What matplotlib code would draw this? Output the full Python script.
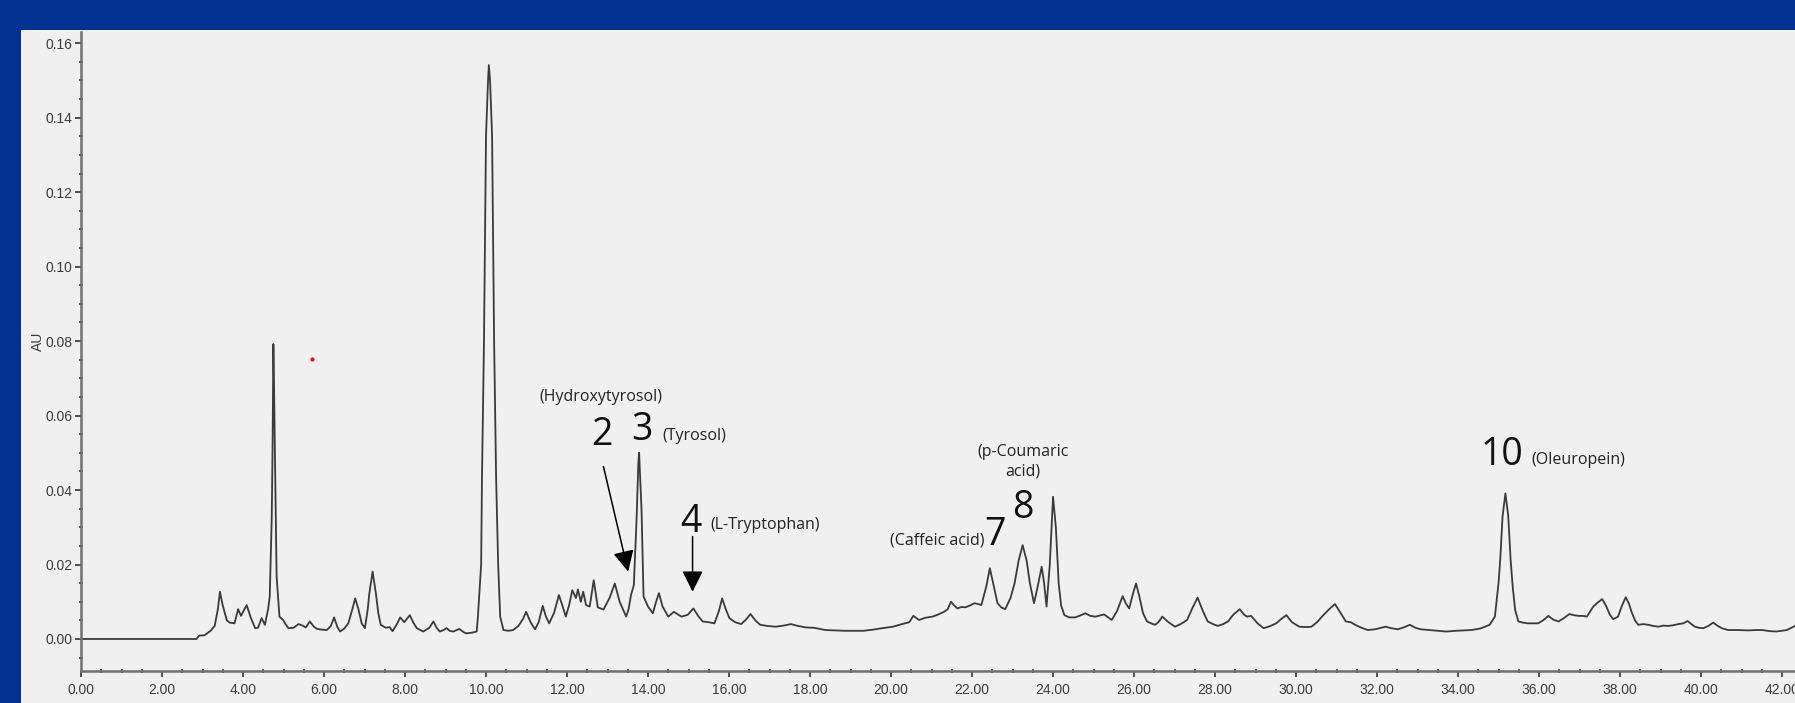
import matplotlib
matplotlib.use("Agg")
import matplotlib.pyplot as plt
from matplotlib.patches import Rectangle
from matplotlib.ticker import MultipleLocator, FormatStrFormatter

# Retention time (min) and absorbance (AU) of the trace
rt_min = [
    0.00, 2.85, 2.92, 3.05, 3.20, 3.30, 3.38, 3.43, 3.50, 3.60, 3.67, 3.79, 3.88, 3.95,
    4.09, 4.20, 4.30, 4.37, 4.46, 4.54, 4.62, 4.66, 4.71, 4.73, 4.75, 4.77, 4.79, 4.83,
    4.90, 4.99, 5.05, 5.12, 5.25, 5.37, 5.47, 5.55, 5.65, 5.75, 5.83, 5.95, 6.07, 6.17,
    6.25, 6.33, 6.40, 6.50, 6.60, 6.70, 6.77, 6.85, 6.93, 7.01, 7.08, 7.12, 7.20, 7.28,
    7.34, 7.40, 7.53, 7.62, 7.69, 7.80, 7.88, 7.98, 8.12, 8.20, 8.29, 8.45, 8.60, 8.70,
    8.78, 8.86, 8.95, 9.03, 9.10, 9.19, 9.34, 9.45, 9.52, 9.65, 9.77, 9.80, 9.88, 9.90,
    9.95, 10.00, 10.05, 10.07, 10.10, 10.15, 10.20, 10.25, 10.30, 10.35, 10.43, 10.55,
    10.67, 10.80, 10.92, 10.99, 11.10, 11.21, 11.30, 11.40, 11.48, 11.56, 11.68, 11.80,
    11.90, 11.97, 12.05, 12.13, 12.22, 12.27, 12.34, 12.40, 12.47, 12.56, 12.66, 12.76,
    12.90, 13.05, 13.18, 13.30, 13.46, 13.52, 13.58, 13.65, 13.72, 13.76, 13.78, 13.80,
    13.84, 13.89, 14.00, 14.12, 14.20, 14.27, 14.36, 14.50, 14.64, 14.75, 14.83, 14.98,
    15.12, 15.25, 15.35, 15.50, 15.64, 15.75, 15.83, 15.92, 16.01, 16.15, 16.30, 16.42,
    16.53, 16.65, 16.77, 16.95, 17.15, 17.35, 17.53, 17.70, 17.90, 18.10, 18.38, 18.60,
    18.85, 19.10, 19.32, 19.55, 19.79, 20.05, 20.27, 20.45, 20.55, 20.69, 20.85, 21.02,
    21.15, 21.31, 21.40, 21.48, 21.56, 21.64, 21.74, 21.84, 21.95, 22.06, 22.15, 22.23,
    22.35, 22.44, 22.52, 22.63, 22.72, 22.82, 22.95, 23.05, 23.15, 23.25, 23.35, 23.43,
    23.53, 23.62, 23.72, 23.78, 23.84, 23.92, 24.00, 24.07, 24.14, 24.20, 24.28, 24.40,
    24.55, 24.67, 24.80, 24.92, 25.05, 25.15, 25.26, 25.36, 25.45, 25.58, 25.72, 25.80,
    25.88, 25.97, 26.05, 26.13, 26.22, 26.32, 26.42, 26.52, 26.60, 26.70, 26.85, 27.01,
    27.15, 27.31, 27.45, 27.57, 27.70, 27.82, 27.95, 28.07, 28.20, 28.32, 28.45, 28.61,
    28.72, 28.79, 28.89, 29.05, 29.20, 29.35, 29.51, 29.65, 29.76, 29.90, 30.08, 30.25,
    30.38, 30.52, 30.64, 30.80, 30.96, 31.10, 31.23, 31.35, 31.46, 31.62, 31.77, 31.95,
    32.10, 32.21, 32.35, 32.52, 32.68, 32.81, 32.95, 33.08, 33.30, 33.50, 33.71, 33.95,
    34.15, 34.33, 34.55, 34.78, 34.91, 35.00, 35.04, 35.10, 35.17, 35.24, 35.30, 35.35,
    35.41, 35.49, 35.60, 35.73, 35.85, 35.98, 36.10, 36.23, 36.35, 36.48, 36.60, 36.75,
    36.85, 36.98, 37.08, 37.18, 37.27, 37.34, 37.45, 37.56, 37.65, 37.75, 37.83, 37.95,
    38.05, 38.14, 38.22, 38.29, 38.37, 38.45, 38.58, 38.70, 38.82, 38.95, 39.07, 39.19,
    39.32, 39.44, 39.56, 39.67, 39.76, 39.85, 39.95, 40.06, 40.18, 40.30, 40.40, 40.51,
    40.67, 40.90, 41.17, 41.35, 41.51, 41.70, 41.86, 42.00, 42.12, 42.32,
]
absorb_au = [
    0.0, 0.0, 0.0009, 0.0010, 0.0022, 0.0035, 0.0080, 0.0127, 0.0090, 0.0050, 0.0044, 0.0042, 0.0080, 0.0062,
    0.0091, 0.0055, 0.0029, 0.0030, 0.0056, 0.0038, 0.0080, 0.0114, 0.0328, 0.0516, 0.0792, 0.0650, 0.0480, 0.0167,
    0.0060, 0.0051, 0.0040, 0.0029, 0.0030, 0.0040, 0.0036, 0.0031, 0.0047, 0.0033, 0.0027, 0.0025, 0.0024, 0.0035,
    0.0058, 0.0032, 0.0020, 0.0028, 0.0042, 0.0080, 0.0109, 0.0080, 0.0042, 0.0029, 0.0080, 0.0123, 0.0181, 0.0123,
    0.0070, 0.0038, 0.0030, 0.0032, 0.0021, 0.0040, 0.0058, 0.0045, 0.0064, 0.0045, 0.0029, 0.0020, 0.0030, 0.0047,
    0.0030, 0.0020, 0.0024, 0.0029, 0.0022, 0.0020, 0.0027, 0.0018, 0.0015, 0.0017, 0.0020, 0.0060, 0.0200, 0.0430,
    0.0800, 0.1350, 0.1500, 0.1541, 0.1500, 0.1350, 0.0800, 0.0430, 0.0200, 0.0060, 0.0024, 0.0022,
    0.0024, 0.0035, 0.0055, 0.0073, 0.0045, 0.0026, 0.0045, 0.0089, 0.0060, 0.0042, 0.0070, 0.0118,
    0.0085, 0.0060, 0.0090, 0.0131, 0.0110, 0.0133, 0.0100, 0.0127, 0.0091, 0.0087, 0.0158, 0.0085,
    0.0079, 0.0110, 0.0149, 0.0100, 0.0060, 0.0080, 0.0118, 0.0145, 0.0328, 0.0470, 0.0500, 0.0450,
    0.0346, 0.0114, 0.0087, 0.0069, 0.0100, 0.0123, 0.0087, 0.0060, 0.0073, 0.0065, 0.0060, 0.0065,
    0.0082, 0.0060, 0.0047, 0.0045, 0.0042, 0.0075, 0.0109, 0.0080, 0.0056, 0.0045, 0.0040, 0.0052,
    0.0067, 0.0050, 0.0038, 0.0035, 0.0033, 0.0036, 0.0040, 0.0035, 0.0031, 0.0030, 0.0024, 0.0023,
    0.0022, 0.0022, 0.0022, 0.0025, 0.0029, 0.0033, 0.0040, 0.0045, 0.0062, 0.0051, 0.0057, 0.0060,
    0.0065, 0.0073, 0.0080, 0.0100, 0.0090, 0.0082, 0.0086, 0.0085, 0.0090, 0.0096, 0.0094, 0.0091,
    0.0140, 0.0190, 0.0150, 0.0096, 0.0085, 0.0080, 0.0110, 0.0149, 0.0210, 0.0252, 0.0210, 0.0149,
    0.0096, 0.0140, 0.0194, 0.0150, 0.0087, 0.0200, 0.0382, 0.0300, 0.0149, 0.0090, 0.0064, 0.0058,
    0.0058, 0.0063, 0.0069, 0.0062, 0.0060, 0.0063, 0.0066, 0.0058, 0.0051, 0.0075, 0.0115, 0.0095,
    0.0082, 0.0120, 0.0149, 0.0115, 0.0070, 0.0047, 0.0042, 0.0038, 0.0045, 0.0060, 0.0045, 0.0033,
    0.0040, 0.0051, 0.0085, 0.0111, 0.0075, 0.0047, 0.0040, 0.0035, 0.0040, 0.0047, 0.0065, 0.0080,
    0.0065, 0.0060, 0.0062, 0.0042, 0.0029, 0.0034, 0.0042, 0.0055, 0.0064, 0.0045, 0.0033, 0.0032,
    0.0033, 0.0045, 0.0060, 0.0078, 0.0094, 0.0070, 0.0047, 0.0045, 0.0038, 0.0030, 0.0024, 0.0026,
    0.0030, 0.0033, 0.0029, 0.0026, 0.0032, 0.0038, 0.0030, 0.0026, 0.0024, 0.0022, 0.0020, 0.0022,
    0.0023, 0.0024, 0.0028, 0.0038, 0.0060, 0.0150, 0.0210, 0.0330, 0.0391, 0.0330, 0.0210, 0.0140,
    0.0078, 0.0047, 0.0044, 0.0042, 0.0042, 0.0042, 0.0050, 0.0062, 0.0052, 0.0047, 0.0055, 0.0067,
    0.0064, 0.0062, 0.0062, 0.0060, 0.0075, 0.0087, 0.0098, 0.0107, 0.0090, 0.0065, 0.0053, 0.0060,
    0.0090, 0.0112, 0.0095, 0.0071, 0.0050, 0.0038, 0.0040, 0.0038, 0.0035, 0.0033, 0.0036, 0.0035,
    0.0037, 0.0040, 0.0042, 0.0048, 0.0040, 0.0033, 0.0030, 0.0029, 0.0035, 0.0044, 0.0036, 0.0029,
    0.0024, 0.0024, 0.0023, 0.0024, 0.0024, 0.0021, 0.0020, 0.0022, 0.0024, 0.0035,
]

# Peak numbers: (label, x, baseline y)
peak_labels = [
    ("2", 12.85, 0.0521),
    ("3", 13.84, 0.0534),
    ("4", 15.05, 0.0287),
    ("7", 22.56, 0.0252),
    ("8", 23.25, 0.0325),
    ("10", 35.09, 0.0467),
]
# Compound names: (text, x, y, horizontal alignment)
compound_names = [
    ("(Hydroxytyrosol)", 12.84, 0.0650, "center"),
    ("(Tyrosol)", 14.36, 0.0545, "left"),
    ("(L-Tryptophan)", 15.54, 0.0305, "left"),
    ("(Caffeic acid)", 22.30, 0.0264, "right"),
    ("(p-Coumaric\nacid)", 23.25, 0.0476, "center"),
    ("(Oleuropein)", 35.81, 0.0480, "left"),
]
# Arrows pointing at peaks 2 and 4: (tail x, tail y, tip x, tip y)
peak_arrows = [
    (12.90, 0.0463, 13.51, 0.0181),
    (15.10, 0.0275, 15.10, 0.0127),
]
marker_point = (5.70, 0.0752)

W, H = 1795, 703
fig = plt.figure(figsize=(W / 100, H / 100), dpi=100, facecolor="#003090")
fig.patches.append(Rectangle((21 / W, 0), 1, 1 - 30 / H, transform=fig.transFigure,
                             facecolor="#f0f0f0", edgecolor="none", zorder=-5))

ax = fig.add_axes([81 / W, 1 - 671 / H, (W - 81) / W, (671 - 32) / H])
ax.set_facecolor("#f0f0f0")
ax.set_zorder(1)

ax.plot(rt_min, absorb_au, color="#3a3a3a", lw=1.3, solid_joinstyle="round")
ax.plot(*marker_point, "o", color="#e8141b", ms=3, mec="none")

ax.set_xlim(0, 42.32)
ax.set_ylim(-0.0086, 0.163)

for side in ("top", "right"):
    ax.spines[side].set_visible(False)
for side in ("left", "bottom"):
    ax.spines[side].set_color("#707070")
    ax.spines[side].set_linewidth(1.8)

ax.xaxis.set_major_locator(MultipleLocator(2))
ax.xaxis.set_minor_locator(MultipleLocator(0.5))
ax.yaxis.set_major_locator(MultipleLocator(0.02))
ax.yaxis.set_minor_locator(MultipleLocator(0.005))
ax.xaxis.set_major_formatter(FormatStrFormatter("%.2f"))
ax.yaxis.set_major_formatter(FormatStrFormatter("%.2f"))

tick_font = {"family": "Liberation Sans", "size": 10}
ax.tick_params(which="major", direction="out", length=4.5, width=1.2, color="#333333",
               labelcolor="#3c3c3c", labelsize=10)
ax.tick_params(axis="x", which="major", pad=4)
ax.tick_params(axis="y", which="major", pad=1.5)
ax.tick_params(which="minor", direction="inout", length=3, width=1.2, color="#333333")
for lab in ax.get_xticklabels() + ax.get_yticklabels():
    lab.set_fontfamily("Liberation Sans")

fig.text(38 / W, 1 - 341 / H, "AU", rotation=90, ha="center", va="center",
         color="#3c3c3c", **tick_font)

for label, x, y in peak_labels:
    ax.text(x, y, label, ha="center", va="baseline", fontsize=27,
            family="Open Sans", color="#111111")
for name, x, y, align in compound_names:
    ax.text(x, y, name, ha=align, va="center", fontsize=11.5, family="Open Sans",
            color="#222222", linespacing=1.3, multialignment="center")

for x0, y0, x1, y1 in peak_arrows:
    ax.annotate("", xy=(x1, y1), xytext=(x0, y0),
                arrowprops=dict(arrowstyle="-|>,head_length=0.8,head_width=0.4",
                                mutation_scale=16, lw=1.1, color="black",
                                shrinkA=0, shrinkB=0))

fig.savefig("out.png", dpi=100, facecolor=fig.get_facecolor())
